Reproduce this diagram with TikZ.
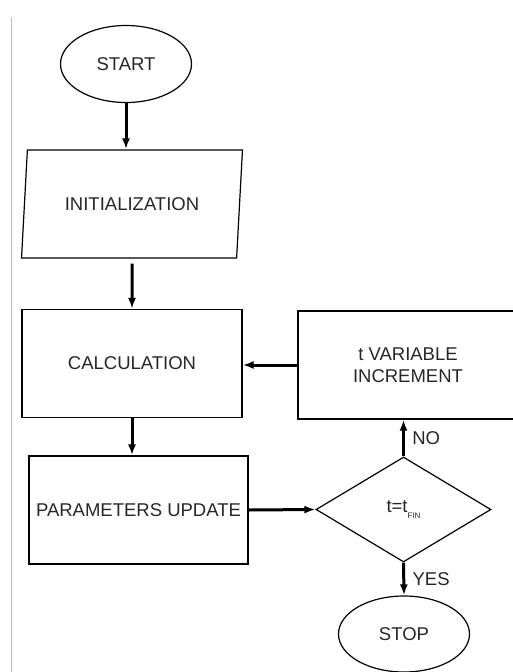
\documentclass[tikz,border=0pt]{standalone}
\usepackage{fontspec}
\setmainfont{Liberation Sans}
\usetikzlibrary{shapes.geometric,arrows.meta}

\begin{document}
\begin{tikzpicture}[x=1pt, y=-1pt,
terminal/.style={ellipse, draw, line width=1.2pt, inner sep=0pt, minimum width=131pt, minimum height=77pt},
iobox/.style={trapezium, draw, line width=1.2pt, trapezium left angle=74, trapezium right angle=106, trapezium stretches=true, minimum width=221pt, minimum height=108pt, inner sep=0pt},
procbox/.style={rectangle, draw, line width=1.2pt, minimum width=220pt, minimum height=108pt, inner sep=0pt, align=center},
decision/.style={diamond, draw, line width=1.2pt, minimum width=175pt, minimum height=105pt, inner sep=0pt},
flow/.style={line width=3pt, -{Latex[length=11pt,width=8pt]}},
every node/.style={font=\fontsize{18.5}{22}\selectfont, text=black!85}]
    \useasboundingbox (0,0) rectangle (513,672);
    \draw [black!25, line width=1pt] (11,17) -- (11,672);
    \node [terminal] (start) at (126,64) {START};
    \node [iobox] (init) at (132,204) {INITIALIZATION};
    \node [procbox] (calc) at (132,363.5) {CALCULATION};
    \node [procbox] (incr) at (408,365) {t VARIABLE\\INCREMENT};
    \node [procbox, minimum width=219pt] (params) at (138.5,510) {PARAMETERS UPDATE};
    \node [decision] (check) at (403.5,509.5) {t=t\raisebox{-0.6ex}{\fontsize{8}{8}\selectfont FIN}};
    \node [terminal, minimum height=76pt] (stop) at (404,634) {STOP};
    % connectors
    \draw [flow] (start.south) -- (start.south |- init.north);
    \draw [flow] (init.south) ++(0,5) -- (calc.north);
    \draw [flow] (incr.west) -- (incr.west -| calc.east);
    \draw [flow] (calc.south) -- (calc.south |- params.north);
    \draw [flow] (params.east) -- (check.west);
    \draw [flow] (check.north) -- node [right=4pt] {NO} (check.north |- incr.south);
    \draw [flow] (check.south) -- node [right=4pt] {YES} (stop.north);
\end{tikzpicture}
\end{document}
